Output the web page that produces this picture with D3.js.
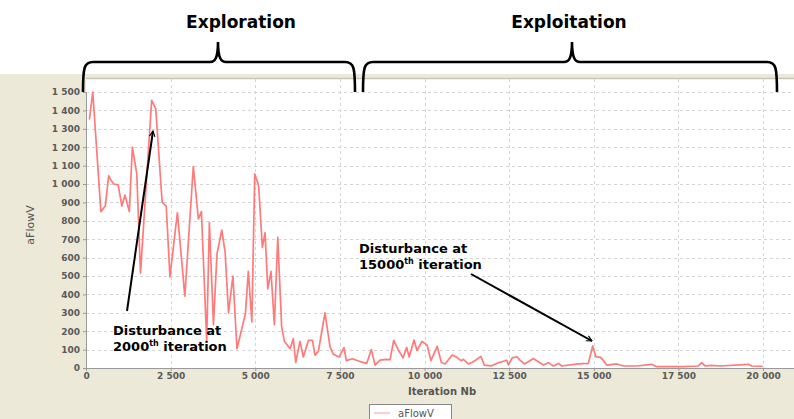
<!DOCTYPE html>
<html><head><meta charset="utf-8">
<script src="https://cdn.jsdelivr.net/npm/d3@7"></script>
<style>body{margin:0;background:#fff}svg{display:block}</style>
</head><body><svg id="c" width="794" height="419"></svg>
<script>
const iterations = [100,200,440,570,670,740,820,950,1060,1150,1280,1370,1500,1610,1940,2060,2250,2370,2480,2700,2920,3170,3320,3410,3565,3645,3765,3870,4010,4110,4210,4340,4460,4710,4795,4900,4985,5100,5210,5290,5370,5465,5565,5665,5780,5860,6030,6125,6195,6320,6420,6570,6690,6765,6865,7060,7210,7305,7480,7622,7690,7870,8095,8292,8430,8538,8686,8883,8981,9090,9227,9365,9474,9547,9690,9779,9925,10075,10190,10375,10498,10606,10820,10951,11080,11148,11296,11444,11665,11769,11986,12134,12282,12430,12479,12590,12730,12822,12950,13068,13216,13364,13511,13659,13807,13955,14053,14545,14840,14969,15060,15200,15290,15382,15677,15874,16268,16711,16850,17007,17646,18089,18188,18286,18483,18729,19567,19665,19990];
const aFlowV = [1350,1500,850,880,1045,1020,1000,995,880,940,850,1200,1055,515,1455,1410,900,880,495,845,390,1095,810,850,145,790,235,620,750,630,300,500,105,295,525,250,1055,990,655,735,430,525,235,710,225,145,105,160,30,145,60,150,150,70,90,300,115,75,60,110,40,50,35,25,100,16,43,47,45,150,98,55,112,60,152,95,145,125,40,118,30,22,71,58,40,47,22,34,63,16,12,25,34,42,16,55,61,43,22,34,52,34,16,29,11,25,11,22,25,120,62,58,40,16,22,11,11,20,8,7,7,11,29,11,14,11,20,11,9];
const xTicks = [0,2500,5000,7500,10000,12500,15000,17500,20000];
const yTicks = [0,100,200,300,400,500,600,700,800,900,1000,1100,1200,1300,1400,1500];
const phases = [{label:"Exploration", x0:83, x1:355, tip:218, tx:241},{label:"Exploitation", x0:363, x1:777, tip:572, tx:569}];
const notes = [
  {lines:["Disturbance at",["2000","th"," iteration"]], x:113, y:335, from:[127,311], to:[153,131]},
  {lines:["Disturbance at",["15000","th"," iteration"]], x:359, y:253, from:[471,274], to:[592,341]}
];

const svg = d3.select("#c");
const fmt = v => d3.format(",")(v).replace(/,/g," ");
const x = d3.scaleLinear().domain([0,20000]).range([86,763]);
const y = d3.scaleLinear().domain([0,1500]).range([368,92]);
const L=86,R=794,T=79,B=368;

svg.append("rect").attr("x",0).attr("y",74).attr("width",794).attr("height",345).attr("fill","#ece9d8");
svg.append("rect").attr("x",L).attr("y",T).attr("width",R-L).attr("height",B-T).attr("fill","#fff");
svg.append("line").attr("x1",L).attr("x2",R).attr("y1",T-0.5).attr("y2",T-0.5).attr("stroke","#c8c5b8").attr("stroke-width",1.5);

const g = svg.append("g");
g.selectAll(".hy").data(yTicks.filter(d=>d>0)).join("line")
  .attr("x1",L).attr("x2",R).attr("y1",d=>Math.round(y(d))+0.5).attr("y2",d=>Math.round(y(d))+0.5)
  .attr("stroke","#d4d4d4").attr("stroke-dasharray","3,3");
g.selectAll(".vx").data(xTicks.filter(d=>d>0)).join("line")
  .attr("y1",T).attr("y2",B).attr("x1",d=>Math.round(x(d))+0.5).attr("x2",d=>Math.round(x(d))+0.5)
  .attr("stroke","#d4d4d4").attr("stroke-dasharray","3,3");

const ya = svg.append("g").attr("transform",`translate(${L},0)`)
  .call(d3.axisLeft(y).tickValues(yTicks).tickFormat(fmt).tickSize(3).tickPadding(3));
const xa = svg.append("g").attr("transform",`translate(0,${B})`)
  .call(d3.axisBottom(x).tickValues(xTicks).tickFormat(fmt).tickSize(3).tickPadding(2));
[ya,xa].forEach(a=>{
  a.select(".domain").attr("stroke","#999");
  a.selectAll(".tick line").attr("stroke","#999");
  a.selectAll("text").attr("fill","#5a5a5a").attr("font-family","DejaVu Sans, Verdana, sans-serif").attr("font-size",9).attr("font-weight","bold");
});
svg.append("line").attr("x1",L).attr("x2",R).attr("y1",B+0.5).attr("y2",B+0.5).attr("stroke","#999");

svg.append("text").attr("transform","translate(34,225) rotate(-90)").attr("text-anchor","middle")
  .attr("font-family","DejaVu Sans, Verdana, sans-serif").attr("font-size",11).attr("fill","#555").text("aFlowV");
svg.append("text").attr("x",442).attr("y",395).attr("text-anchor","middle")
  .attr("font-family","DejaVu Sans, Verdana, sans-serif").attr("font-size",10).attr("font-weight","bold").attr("fill","#555").text("Iteration Nb");

const data = iterations.map((it,i)=>[it,aFlowV[i]]);
svg.append("path").datum(data).attr("fill","none").attr("stroke","#ff7a7a").attr("stroke-width",1.7).attr("stroke-linejoin","round")
  .attr("d",d3.line().x(d=>x(d[0])).y(d=>y(d[1])));

svg.append("rect").attr("x",369.5).attr("y",404.5).attr("width",82).attr("height",22).attr("fill","#fff").attr("stroke","#888");
svg.append("line").attr("x1",374).attr("x2",390).attr("y1",413).attr("y2",413).attr("stroke","#ff9a9a").attr("stroke-width",1);
svg.append("text").attr("x",398).attr("y",417).attr("font-family","DejaVu Sans, Verdana, sans-serif").attr("font-size",10).attr("fill","#555").text("aFlowV");

phases.forEach(p=>{
  const h=62, top=42, bot=92;
  const path = `M${p.x0},${bot} C${p.x0},${h+6} ${p.x0+1},${h} ${p.x0+10},${h} L${p.tip-8},${h} C${p.tip-3},${h} ${p.tip},${h-4} ${p.tip},${top}`
    + ` C${p.tip},${h-4} ${p.tip+3},${h} ${p.tip+8},${h} L${p.x1-10},${h} C${p.x1-1},${h} ${p.x1},${h+6} ${p.x1},${bot}`;
  svg.append("path").attr("d",path).attr("fill","none").attr("stroke","#000").attr("stroke-width",2.6);
  svg.append("text").attr("x",p.tx).attr("y",28).attr("text-anchor","middle")
    .attr("font-family","DejaVu Sans, Verdana, sans-serif").attr("font-weight","bold").attr("font-size",17).attr("fill","#000").text(p.label);
});

svg.append("defs").append("marker").attr("id","ah").attr("viewBox","0 0 10 10").attr("refX",9).attr("refY",5)
  .attr("markerWidth",7).attr("markerHeight",7).attr("orient","auto-start-reverse").attr("markerUnits","userSpaceOnUse")
  .append("path").attr("d","M1,1 L9,5 L1,9").attr("fill","none").attr("stroke","#000").attr("stroke-width",1.6);
notes.forEach(n=>{
  svg.append("line").attr("x1",n.from[0]).attr("y1",n.from[1]).attr("x2",n.to[0]).attr("y2",n.to[1])
    .attr("stroke","#000").attr("stroke-width",2).attr("marker-end","url(#ah)");
  const t = svg.append("text").attr("font-family","DejaVu Sans, Verdana, sans-serif").attr("font-weight","bold").attr("font-size",13).attr("fill","#000");
  t.append("tspan").attr("x",n.x).attr("y",n.y).text(n.lines[0]);
  const l2 = n.lines[1];
  t.append("tspan").attr("x",n.x).attr("y",n.y+16).text(l2[0]);
  t.append("tspan").attr("dy",-5).attr("font-size",8).text(l2[1]);
  t.append("tspan").attr("dy",5).text(l2[2]);
});
</script></body></html>
